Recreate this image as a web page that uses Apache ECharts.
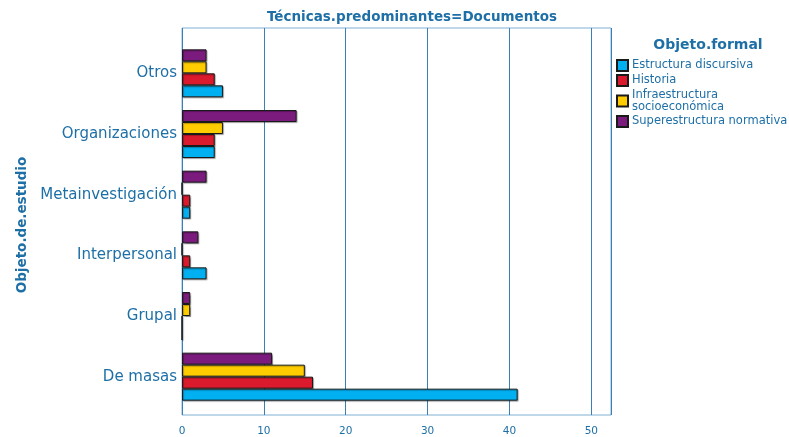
<!DOCTYPE html>
<html>
<head>
<meta charset="utf-8">
<script src="https://cdn.jsdelivr.net/npm/echarts@6/dist/echarts.min.js"></script>
<style>
html, body { margin: 0; padding: 0; background: #fff; }
#chart { width: 789px; height: 437px; }
</style>
</head>
<body>
<div id="chart"></div>
<script>
// categories bottom -> top
var categories = ['De masas', 'Grupal', 'Interpersonal', 'Metainvestigación', 'Organizaciones', 'Otros'];

var estructura = [41, 0, 3, 1, 4, 5];
var historia = [16, 0, 1, 1, 4, 4];
var infraestructura = [15, 1, 0, 0, 5, 3];
var superestructura = [11, 1, 2, 3, 14, 3];

var seriesNames = ['Estructura discursiva', 'Historia', 'Infraestructura socioeconómica', 'Superestructura normativa'];
var seriesColors = ['#00b0f0', '#dc1a2e', '#ffcc00', '#7b1b7e'];

var xMin = 0, xMax = 52.4, xStep = 10;

var txt = '#1d6fa6';
var font = 'DejaVu Sans';

var myChart = echarts.init(document.getElementById('chart'));

function barSeries(i, data) {
    return {
        name: seriesNames[i],
        type: 'bar',
        xAxisIndex: 1,
        yAxisIndex: 1,
        barWidth: 12,
        barGap: '0%',
        data: data,
        itemStyle: {
            color: seriesColors[i],
            borderColor: '#1a1a1a',
            borderWidth: 1,
            shadowColor: 'rgba(0,0,0,0.3)',
            shadowOffsetX: 1,
            shadowOffsetY: 1,
            shadowBlur: 1
        }
    };
}

var option = {
    animation: false,
    textStyle: { fontFamily: font },
    title: [
        {
            text: 'Técnicas.predominantes=Documentos',
            left: 407, top: 5, textAlign: 'center',
            textStyle: { color: txt, fontSize: 13.5, fontWeight: 'bold', fontFamily: font }
        },
        {
            text: 'Objeto.formal',
            left: 703, top: 33, textAlign: 'center',
            textStyle: { color: txt, fontSize: 14, fontWeight: 'bold', fontFamily: font }
        }
    ],
    legend: {
        orient: 'vertical',
        left: 611, top: 54,
        itemWidth: 11, itemHeight: 11, itemGap: 2,
        icon: 'rect',
        data: seriesNames,
        formatter: function (name) {
            return name === 'Infraestructura socioeconómica' ? 'Infraestructura\nsocioeconómica' : name;
        },
        textStyle: { color: txt, fontSize: 11.5, lineHeight: 12, fontFamily: font, padding: [0, 0, 0, -1] }
    },
    grid: [
        { left: 182, right: 178, top: 28, bottom: 17, show: true, borderColor: '#7fb0d4', borderWidth: 1 },
        { left: 182, right: 178, top: 43, bottom: 30 }
    ],
    xAxis: [
        {
            type: 'value', gridIndex: 0, min: xMin, max: xMax, interval: xStep,
            axisLine: { show: false },
            axisTick: { show: false },
            splitLine: { show: true, lineStyle: { color: '#3a7fb5', width: 1 } },
            axisLabel: {
                color: txt, fontSize: 10.5, margin: 11, fontFamily: font,
                showMaxLabel: false,
                formatter: function (v) { return v % xStep === 0 ? String(v) : ''; }
            }
        },
        { type: 'value', gridIndex: 1, min: xMin, max: xMax, show: false }
    ],
    yAxis: [
        { type: 'value', gridIndex: 0, show: false },
        {
            type: 'category', gridIndex: 1, data: categories,
            axisLine: { show: false },
            axisTick: { show: false },
            axisLabel: { color: txt, fontSize: 15, margin: 5, fontFamily: font },
            name: 'Objeto.de.estudio',
            nameLocation: 'middle',
            nameGap: 152,
            nameRotate: 90,
            nameTextStyle: { color: txt, fontSize: 13.5, fontWeight: 'bold', fontFamily: font }
        }
    ],
    // series 0 is drawn on top of each group, so list them top -> bottom
    series: [
        barSeries(3, superestructura),
        barSeries(2, infraestructura),
        barSeries(1, historia),
        barSeries(0, estructura)
    ]
};

myChart.setOption(option);
</script>
</body>
</html>
